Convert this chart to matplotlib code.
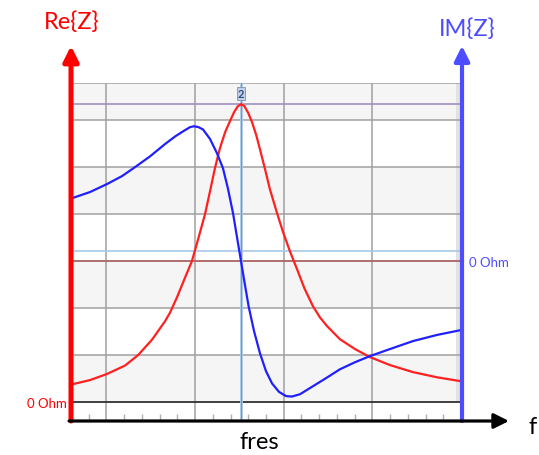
import numpy as np
import matplotlib.pyplot as plt

plt.rcParams['font.family'] = ['Lato', 'DejaVu Sans']

# frequency axis in minor-tick units, impedance in grid units (0 Ohm Re at 0, 0 Ohm Im at 3)
re_f = [0.06, 1.07, 2.03, 3.05, 3.78, 4.57, 5.30, 5.58, 6.00, 6.40, 6.82, 7.18, 7.56, 7.85,
        8.12, 8.40, 8.70, 8.97, 9.20, 9.40, 9.59, 9.78, 10.00, 10.21, 10.45, 10.66, 10.95,
        11.22, 11.60, 11.96, 12.36, 12.75, 13.17, 13.65, 14.05, 14.44, 15.17, 16.02, 16.86,
        17.99, 19.29, 20.64, 21.94]
re_z = [0.38, 0.47, 0.60, 0.78, 1.00, 1.33, 1.72, 1.90, 2.25, 2.62, 3.00, 3.48, 4.00, 4.50,
        4.98, 5.40, 5.75, 5.98, 6.17, 6.29, 6.34, 6.30, 6.15, 5.96, 5.68, 5.38, 4.95,
        4.53, 4.05, 3.62, 3.20, 2.83, 2.42, 2.04, 1.80, 1.62, 1.34, 1.13, 0.96,
        0.79, 0.64, 0.53, 0.45]

im_f = [0.06, 1.07, 2.03, 2.88, 3.61, 4.46, 5.30, 5.90, 6.40, 6.71, 6.94, 7.20, 7.45, 7.84,
        8.23, 8.57, 8.85, 9.14, 9.36, 9.59, 9.81, 10.02, 10.32, 10.66, 11.00, 11.34, 11.73,
        12.13, 12.46, 12.92, 13.65, 14.38, 15.17, 16.02, 16.86, 17.99, 19.29, 20.64, 21.94]
im_z = [4.34, 4.47, 4.64, 4.81, 5.00, 5.23, 5.49, 5.66, 5.78, 5.85, 5.87, 5.85, 5.80, 5.60,
        5.30, 4.98, 4.55, 4.02, 3.52, 3.00, 2.50, 2.04, 1.52, 1.04, 0.66, 0.40, 0.22,
        0.13, 0.12, 0.17, 0.34, 0.51, 0.70, 0.85, 0.98, 1.13, 1.30, 1.43, 1.53]

fres = 9.59
peak = 6.34
im_zero = 3.0
x_max = 22
y_min, y_max = -0.40, 6.79

fig = plt.figure(figsize=(5.39, 4.56), dpi=100)
ax = fig.add_axes([71/539, 1-422/456, 390/539, 338/456])
ax.set_xlim(0, x_max)
ax.set_ylim(y_min, y_max)
ax.axis('off')

# background bands
ax.axhspan(0, y_max, color='white', zorder=0)
for b in [0, 2, 4, 6]:
    ax.axhspan(b, min(b+1, y_max), color='#f5f5f5', lw=0, zorder=0)
ax.axvspan(21.7, x_max, ymin=(0-y_min)/(y_max-y_min), color='#e2e2e2', lw=0, zorder=0)

# grid
for g in [1, 2, 3, 4, 5, 6, y_max]:
    ax.axhline(g, color='#a0a0a0', lw=1.1, zorder=1)
for g in [2, 7, 12, 17, 22]:
    ax.axvline(g, color='#a0a0a0', lw=1.1, zorder=1)
ax.axhline(0, color='#303030', lw=1.3, zorder=1)
minor = [t for t in range(1, x_max) if t not in (2, 7, 12, 17)]
ax.vlines(minor, y_min, y_min + 0.15, color='#b0b0b0', lw=1, zorder=1)

# markers
ax.axhline(3.21, color='#a8c8e8', lw=1.2, zorder=2)
ax.axhline(im_zero, color='#b05050', lw=1.2, alpha=0.8, zorder=2)
ax.axhline(peak, color='#a090c0', lw=1.2, zorder=2)
ax.axvline(fres, color='#a8c8e8', lw=2.0, zorder=2)
ax.axvline(fres, color='#e07070', lw=0.7, zorder=2)
ax.text(fres, 6.57, '2', ha='center', va='center', fontsize=8, color='#305080',
        fontweight='bold', zorder=5,
        bbox=dict(boxstyle='square,pad=0.1', fc='#c0d0e8', ec='#8090b0', lw=0.6))

# curves
ax.plot(re_f, re_z, color='#ff2020', lw=1.6, zorder=3)
ax.plot(im_f, im_z, color='#2020ff', lw=1.6, zorder=3)

# axes arrows
ax.annotate('', xy=(0, 1.11), xytext=(0, 0), xycoords='axes fraction',
            arrowprops=dict(arrowstyle='-|>,head_length=0.6,head_width=0.3',
                            mutation_scale=15, lw=3.6, color='#ff0000',
                            shrinkA=0, shrinkB=0), annotation_clip=False, zorder=6)
ax.annotate('', xy=(1.0026, 1.11), xytext=(1.0026, 0), xycoords='axes fraction',
            arrowprops=dict(arrowstyle='-|>,head_length=0.6,head_width=0.3',
                            mutation_scale=15, lw=3.0, color='#4d4dff',
                            shrinkA=0, shrinkB=0), annotation_clip=False, zorder=6)
ax.annotate('', xy=(1.123, 0), xytext=(-0.005, 0), xycoords='axes fraction',
            arrowprops=dict(arrowstyle='-|>,head_length=0.6,head_width=0.3',
                            mutation_scale=15, lw=2.3, color='black',
                            shrinkA=0, shrinkB=0), annotation_clip=False, zorder=6)

# labels
fig.text(72/539, 1-22/456, 'Re{Z}', color='#ff0000', fontsize=17, ha='center', va='center')
fig.text(467/539, 1-29/456, 'IM{Z}', color='#4d4dff', fontsize=17, ha='center', va='center')
fig.text(259/539, 1-443/456, 'fres', color='black', fontsize=17, ha='center', va='center')
fig.text(533/539, 1-428/456, 'f', color='black', fontsize=17, ha='center', va='center')
fig.text(67/539, 1-404/456, '0 Ohm', color='#ff0000', fontsize=9.5, ha='right', va='center')
fig.text(469/539, 1-263/456, '0 Ohm', color='#4d4dff', fontsize=9.5, ha='left', va='center')

fig.savefig('out.png', dpi=100)
